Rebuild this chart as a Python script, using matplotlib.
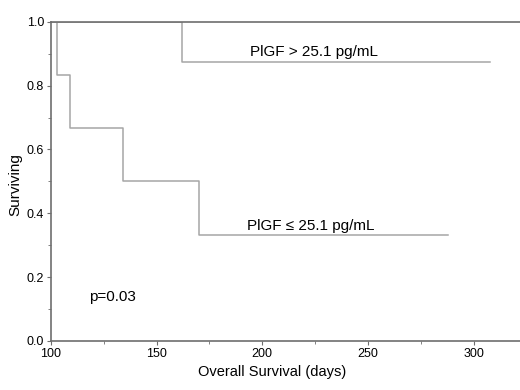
import matplotlib.pyplot as plt
from matplotlib.ticker import MultipleLocator

plt.rcParams['font.family'] = ['Liberation Sans', 'DejaVu Sans']

# Kaplan-Meier step data
high_days = [100, 162, 308]
high_surv = [1.0, 0.875, 0.875]

low_days = [100, 103, 109, 134, 170, 288]
low_surv = [1.0, 0.833, 0.667, 0.5, 0.333, 0.333]

high_label = "PlGF > 25.1 pg/mL"
low_label = "PlGF \u2264 25.1 pg/mL"
p_text = "p=0.03"

fig = plt.figure(figsize=(5.2, 3.9), dpi=100)
ax = fig.add_axes([0.098, 0.126, 0.902, 0.818])

curve_color = '#a6a6a6'
ax.step(high_days, high_surv, where='post', color=curve_color, lw=1.1)
ax.step(low_days, low_surv, where='post', color=curve_color, lw=1.1)

ax.text(194, 0.906, high_label, fontsize=11, va='center', ha='left')
ax.text(193, 0.36, low_label, fontsize=11, va='center', ha='left')
ax.text(118, 0.138, p_text, fontsize=11, va='center', ha='left')

ax.set_xlim(100, 322)
ax.set_ylim(0, 1.0)
ax.xaxis.set_major_locator(MultipleLocator(50))
ax.xaxis.set_minor_locator(MultipleLocator(25))
ax.yaxis.set_major_locator(MultipleLocator(0.2))
ax.yaxis.set_minor_locator(MultipleLocator(0.1))
ax.set_yticklabels([f"{v:.1f}" for v in ax.get_yticks()])

spine_color = '#6e6e6e'
for side in ['left', 'bottom', 'top']:
    ax.spines[side].set_color(spine_color)
    ax.spines[side].set_linewidth(1.2)
ax.spines['right'].set_visible(False)

ax.tick_params(which='major', length=3, color=spine_color, labelsize=9, pad=2)
ax.tick_params(which='minor', length=2, color=spine_color)
ax.tick_params(top=False, which='both')

ax.set_xlabel("Overall Survival (days)", fontsize=10.5)
ax.xaxis.set_label_coords(0.471, -0.077)
ax.set_ylabel("Surviving", fontsize=11)
ax.yaxis.set_label_coords(-0.062, 0.49)

fig.savefig("out.png", dpi=100)
